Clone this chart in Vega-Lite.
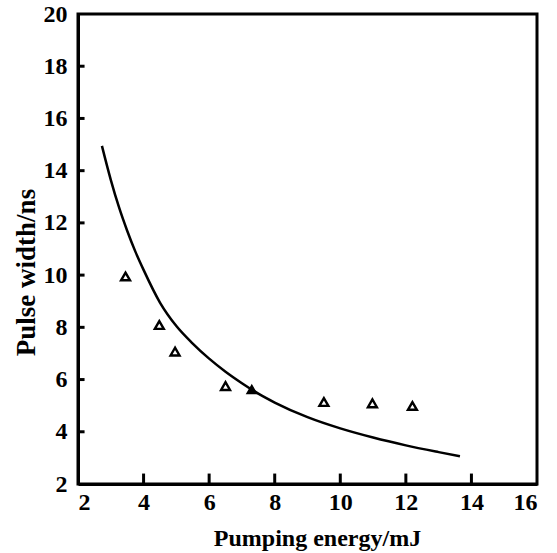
{
  "$schema": "https://vega.github.io/schema/vega-lite/v6.json",
  "autosize": "none",
  "width": 459,
  "height": 470,
  "padding": {"left": 78, "top": 14, "right": 20, "bottom": 69},
  "background": "white",
  "config": {
    "view": {"stroke": "black", "strokeWidth": 3},
    "font": "Liberation Serif"
  },
  "datasets": {
    "curve": [
      {"energy": 2.73, "width": 14.95},
      {"energy": 3.0, "width": 13.65},
      {"energy": 3.25, "width": 12.6},
      {"energy": 3.5, "width": 11.7},
      {"energy": 3.75, "width": 10.9},
      {"energy": 4.0, "width": 10.2},
      {"energy": 4.5, "width": 8.95},
      {"energy": 5.0, "width": 8.05},
      {"energy": 5.5, "width": 7.38},
      {"energy": 6.0, "width": 6.8},
      {"energy": 6.5, "width": 6.3},
      {"energy": 7.0, "width": 5.86},
      {"energy": 7.5, "width": 5.46},
      {"energy": 8.0, "width": 5.12},
      {"energy": 9.0, "width": 4.56},
      {"energy": 10.0, "width": 4.13},
      {"energy": 11.0, "width": 3.78},
      {"energy": 12.0, "width": 3.48},
      {"energy": 13.0, "width": 3.22},
      {"energy": 13.65, "width": 3.06}
    ],
    "open": [
      {"energy": 3.45, "width": 9.95},
      {"energy": 4.48, "width": 8.09},
      {"energy": 4.96, "width": 7.07},
      {"energy": 6.5, "width": 5.75},
      {"energy": 9.5, "width": 5.14},
      {"energy": 10.98, "width": 5.09},
      {"energy": 12.2, "width": 4.99}
    ],
    "solid": [
      {"energy": 7.3, "width": 5.62}
    ],
    "xticks": [
      {"tick": 4}, {"tick": 6}, {"tick": 8}, {"tick": 10}, {"tick": 12}, {"tick": 14}
    ],
    "yticks": [
      {"tick": 4}, {"tick": 6}, {"tick": 8}, {"tick": 10}, {"tick": 12}, {"tick": 14}, {"tick": 16}, {"tick": 18}
    ]
  },
  "layer": [
    {
      "data": {"name": "xticks"},
      "mark": {"type": "rule", "color": "black", "strokeWidth": 3},
      "encoding": {
        "x": {"field": "tick", "type": "quantitative", "scale": {"domain": [2, 16], "nice": false, "zero": false},
          "axis": {
            "title": "Pumping energy/mJ",
            "values": [2, 4, 6, 8, 10, 12, 14, 16],
            "grid": false, "ticks": false,
            "domainColor": "black", "domainWidth": 3,
            "labelFont": "Liberation Serif", "labelFontWeight": "bold", "labelFontSize": 24,
            "labelColor": "black", "labelPadding": 6, "labelBaseline": "top",
            "titleFont": "Liberation Serif", "titleFontWeight": "bold", "titleFontSize": 24,
            "titleColor": "black", "titleX": 239, "titleY": 61, "titleBaseline": "alphabetic"
          }},
        "y": {"datum": 2, "type": "quantitative", "scale": {"domain": [2, 20], "nice": false, "zero": false},
          "axis": {
            "title": "Pulse width/ns",
            "values": [2, 4, 6, 8, 10, 12, 14, 16, 18, 20],
            "grid": false, "ticks": false,
            "domainColor": "black", "domainWidth": 3,
            "labelFont": "Liberation Serif", "labelFontWeight": "bold", "labelFontSize": 24,
            "labelColor": "black", "labelPadding": 11,
            "titleFont": "Liberation Serif", "titleFontWeight": "bold", "titleFontSize": 27,
            "titleColor": "black", "titleAngle": 270, "titleX": -52, "titleY": 258,
            "titleAlign": "center", "titleBaseline": "middle"
          }},
        "y2": {"datum": 2.4}
      }
    },
    {
      "data": {"name": "yticks"},
      "mark": {"type": "rule", "color": "black", "strokeWidth": 3},
      "encoding": {
        "y": {"field": "tick", "type": "quantitative"},
        "x": {"datum": 2, "type": "quantitative"},
        "x2": {"datum": 2.2}
      }
    },
    {
      "data": {"name": "curve"},
      "mark": {"type": "line", "color": "black", "strokeWidth": 2.5, "interpolate": "monotone"},
      "encoding": {
        "x": {"field": "energy", "type": "quantitative"},
        "y": {"field": "width", "type": "quantitative"}
      }
    },
    {
      "data": {"name": "open"},
      "mark": {"type": "point", "shape": "triangle-up", "size": 80, "filled": false, "stroke": "black", "strokeWidth": 2.4, "opacity": 1},
      "encoding": {
        "x": {"field": "energy", "type": "quantitative"},
        "y": {"field": "width", "type": "quantitative"}
      }
    },
    {
      "data": {"name": "solid"},
      "mark": {"type": "point", "shape": "triangle-up", "size": 90, "filled": true, "fill": "black", "stroke": "black", "strokeWidth": 1.5, "opacity": 1},
      "encoding": {
        "x": {"field": "energy", "type": "quantitative"},
        "y": {"field": "width", "type": "quantitative"}
      }
    }
  ]
}
